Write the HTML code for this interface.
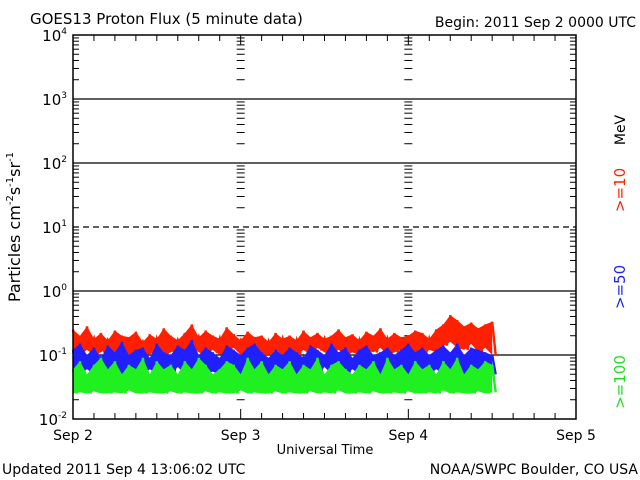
<!DOCTYPE html>
<html><head><meta charset="utf-8"><style>
html,body{margin:0;padding:0;background:#fff;}
svg{display:block;font-family:"DejaVu Sans","Liberation Sans",sans-serif;}
</style></head><body>
<svg id="chart" width="640" height="480" viewBox="0 0 640 480">
<text x="30" y="24" font-size="15">GOES13 Proton Flux (5 minute data)</text>
<text x="636" y="27" font-size="14" text-anchor="end">Begin: 2011 Sep 2 0000 UTC</text>
<g id="grid"></g>
<g id="series"></g>
<rect x="73" y="35" width="503" height="384" fill="none" stroke="#000" stroke-width="1.5"/>
<g id="labels"></g>
<text transform="translate(20,227) rotate(-90)" font-size="16" text-anchor="middle">Particles cm<tspan font-size="10" dy="-7">-2</tspan><tspan dy="7">s</tspan><tspan font-size="10" dy="-7">-1</tspan><tspan dy="7">sr</tspan><tspan font-size="10" dy="-7">-1</tspan></text>
<text x="325" y="454" font-size="13" text-anchor="middle">Universal Time</text>
<text x="2" y="474" font-size="14">Updated 2011 Sep  4 13:06:02 UTC</text>
<text x="638" y="474" font-size="14" text-anchor="end">NOAA/SWPC Boulder, CO USA</text>
<text transform="translate(625,130) rotate(-90)" font-size="14" text-anchor="middle">MeV</text>
<text transform="translate(625,190) rotate(-90)" font-size="15" fill="#ff2000" text-anchor="middle">&gt;=10</text>
<text transform="translate(625,287) rotate(-90)" font-size="15" fill="#2020ff" text-anchor="middle">&gt;=50</text>
<text transform="translate(625,382) rotate(-90)" font-size="15" fill="#20e020" text-anchor="middle">&gt;=100</text>
</svg>
<script>
const dayLabels=["Sep 2","Sep 3","Sep 4","Sep 5"];
const decadeExps=[-2,-1,0,1,2,3,4];
const redHigh=[0.25,0.2,0.28,0.18,0.22,0.17,0.24,0.2,0.19,0.23,0.16,0.21,0.18,0.26,0.2,0.17,0.22,0.3,0.19,0.24,0.2,0.18,0.27,0.21,0.17,0.23,0.19,0.2,0.16,0.22,0.18,0.2,0.17,0.24,0.19,0.22,0.18,0.2,0.25,0.19,0.21,0.17,0.23,0.2,0.26,0.18,0.22,0.19,0.2,0.24,0.22,0.18,0.25,0.3,0.42,0.35,0.28,0.32,0.26,0.3,0.33];
const redLow=[0.11,0.1,0.12,0.1,0.11,0.13,0.1,0.115,0.1,0.12,0.11,0.1,0.125,0.1,0.11,0.12,0.1,0.13,0.11,0.1,0.12,0.1,0.11,0.13,0.1,0.12,0.11,0.1,0.1,0.12,0.1,0.11,0.1,0.12,0.1,0.13,0.11,0.1,0.12,0.1,0.11,0.1,0.12,0.11,0.13,0.1,0.11,0.12,0.1,0.11,0.1,0.12,0.11,0.14,0.16,0.13,0.12,0.15,0.11,0.13,0.1];
const blueHigh=[0.12,0.15,0.1,0.13,0.09,0.14,0.11,0.16,0.1,0.12,0.13,0.09,0.15,0.11,0.1,0.14,0.12,0.17,0.1,0.13,0.11,0.09,0.14,0.12,0.1,0.13,0.15,0.11,0.09,0.12,0.1,0.13,0.11,0.09,0.14,0.12,0.1,0.15,0.11,0.13,0.09,0.12,0.14,0.1,0.11,0.13,0.1,0.12,0.15,0.11,0.13,0.1,0.12,0.14,0.11,0.15,0.1,0.13,0.12,0.11,0.1];
const blueLow=[0.055,0.05,0.06,0.05,0.065,0.05,0.055,0.05,0.06,0.05,0.05,0.06,0.05,0.055,0.05,0.065,0.05,0.06,0.05,0.05,0.055,0.05,0.06,0.05,0.05,0.065,0.05,0.055,0.05,0.06,0.05,0.055,0.05,0.06,0.05,0.05,0.065,0.05,0.055,0.05,0.06,0.05,0.05,0.055,0.05,0.06,0.05,0.065,0.05,0.05,0.055,0.05,0.06,0.05,0.05,0.06,0.05,0.055,0.05,0.06,0.05];
const greenHigh=[0.06,0.08,0.05,0.07,0.09,0.06,0.08,0.05,0.07,0.06,0.09,0.05,0.08,0.06,0.07,0.05,0.08,0.06,0.09,0.07,0.05,0.06,0.08,0.07,0.05,0.09,0.06,0.08,0.05,0.07,0.06,0.08,0.05,0.07,0.06,0.09,0.05,0.07,0.08,0.06,0.05,0.07,0.06,0.08,0.05,0.09,0.06,0.07,0.05,0.08,0.06,0.07,0.05,0.08,0.06,0.09,0.05,0.07,0.06,0.08,0.07];
const greenLow=[0.025,0.026,0.025,0.027,0.025,0.025,0.026,0.025,0.028,0.025,0.025,0.026,0.025,0.025,0.027,0.025,0.026,0.025,0.025,0.027,0.025,0.026,0.025,0.025,0.028,0.025,0.026,0.025,0.025,0.027,0.025,0.026,0.025,0.025,0.027,0.025,0.026,0.025,0.028,0.025,0.025,0.026,0.025,0.027,0.025,0.025,0.026,0.025,0.027,0.025,0.025,0.026,0.025,0.028,0.025,0.026,0.025,0.025,0.027,0.025,0.026];
const stepHours=1;

const NS="http://www.w3.org/2000/svg";
const X0=73,X1=576,Y0=419,Y1=35;
function xScale(h){return X0+(X1-X0)*h/72;}
function yScale(v){return Y0-(Math.log10(v)+2)*(Y0-Y1)/6;}
function mk(tag,attrs,parent){const e=document.createElementNS(NS,tag);for(const k in attrs)e.setAttribute(k,attrs[k]);parent.appendChild(e);return e;}
const grid=document.getElementById('grid'),labels=document.getElementById('labels'),series=document.getElementById('series');
decadeExps.forEach(ex=>{
  const y=yScale(Math.pow(10,ex));
  if(ex>-2&&ex<4){
    const l=mk('line',{x1:X0,x2:X1,y1:y,y2:y,stroke:'#000','stroke-width':1.3},grid);
    if(ex===1)l.setAttribute('stroke-dasharray','6,4');
    
    
  }
  const t=mk('text',{x:67,y:y+6,'font-size':15,'text-anchor':'end'},labels);
  t.innerHTML='10<tspan font-size="9" dy="-7">'+ex+'</tspan>';
  
  
  if(ex<4){for(let m=2;m<=9;m++){
    const ym=yScale(m*Math.pow(10,ex));
    [[X0,X0+6],[X1-6,X1],[xScale(24)-4,xScale(24)+4],[xScale(48)-4,xScale(48)+4]].forEach(p=>{
      const tk=mk('line',{x1:p[0],x2:p[1],y1:ym,y2:ym,stroke:'#000','stroke-width':1},grid);
      
      
    });
  }}
});
for(let h=0;h<=72;h+=3){
  const x=xScale(h),len=(h%24===0)?10:6;
  [[Y0,Y0-len],[Y1,Y1+len]].forEach(p=>{
    const tk=mk('line',{x1:x,x2:x,y1:p[0],y2:p[1],stroke:'#000','stroke-width':1},grid);
    
    
  });
}
dayLabels.forEach((d,i)=>{
  const t=mk('text',{x:xScale(i*24),y:440,'font-size':14,'text-anchor':'middle'},labels);
  t.textContent=d;
  
  
});
function drawSeries(hi,lo,color,name){
  const pts=[],top=[],bot=[];
  for(let i=0;i<hi.length;i++){
    const h=i*stepHours;
    pts.push(xScale(h).toFixed(1)+','+yScale(hi[i]).toFixed(1));
    pts.push(xScale(h+stepHours/2).toFixed(1)+','+yScale(lo[i]).toFixed(1));
    top.push(xScale(h).toFixed(1)+','+yScale(hi[i]).toFixed(1));
    bot.unshift(xScale(h).toFixed(1)+','+yScale(lo[i]).toFixed(1));
  }
  const pg=mk('polygon',{points:top.concat(bot).join(' '),fill:color,stroke:'none'},series);
  
  
  const pl=mk('polyline',{points:pts.join(' '),fill:'none',stroke:color,'stroke-width':2.4,'stroke-linejoin':'miter'},series);
  
  
}
drawSeries(redHigh,redLow,'#ff2000','series-ge10');
drawSeries(blueHigh,blueLow,'#2020ff','series-ge50');
drawSeries(greenHigh,greenLow,'#20f020','series-ge100');
</script>
</body></html>
